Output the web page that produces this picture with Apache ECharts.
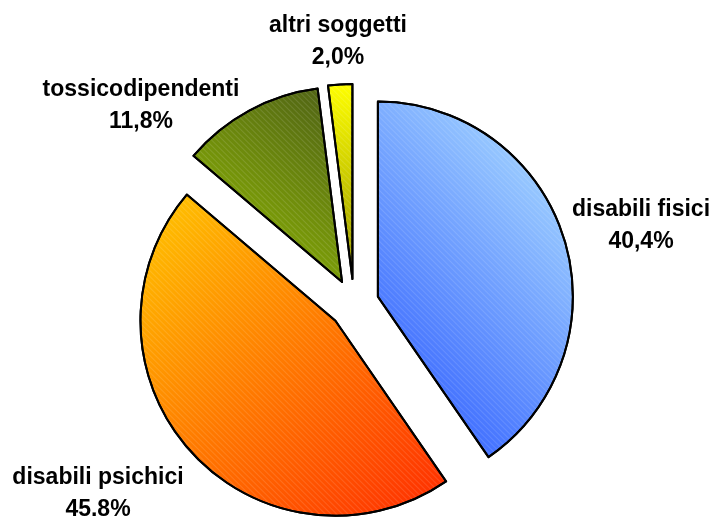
<!DOCTYPE html>
<html>
<head>
<meta charset="utf-8">
<script src="https://cdn.jsdelivr.net/npm/echarts@6/dist/echarts.min.js"></script>
<style>
  html, body { margin: 0; padding: 0; background: #fff; }
  #chart { width: 715px; height: 517px; }
</style>
</head>
<body>
<div id="chart"></div>
<script>
var categories = ['disabili fisici', 'disabili psichici', 'tossicodipendenti', 'altri soggetti'];
var values = [40.4, 45.8, 11.8, 2.0];
var percentLabels = ['40,4%', '45.8%', '11,8%', '2,0%'];

// where each label block sits (centre of the two lines)
var labelSpots = [[641, 226], [98, 494], [141, 106], [338, 42]];

function grad(x, y, x2, y2, c1, c2) {
	return new echarts.graphic.LinearGradient(x, y, x2, y2, [
		{offset: 0, color: c1},
		{offset: 1, color: c2}
	]);
}

// gradient fills, one per slice
var fills = [
	grad(0, 0.75, 1, 0.25, '#3a68ff', '#9fd0ff'),
	grad(0, 0, 1, 1, '#ffc800', '#ff2a00'),
	grad(1, 0, 0, 1, '#4c5e16', '#96c000'),
	grad(0, 0, 0, 1, '#ffff00', '#949400')
];

var myChart = echarts.init(document.getElementById('chart'));

var option = {
	animation: false,
	backgroundColor: '#ffffff',
	series: [{
		type: 'pie',
		center: [354, 304],
		radius: 195,
		startAngle: 90,
		clockwise: true,
		selectedMode: 'multiple',
		selectedOffset: 25,
		avoidLabelOverlap: false,
		minShowLabelAngle: 0,
		itemStyle: {
			borderColor: '#000',
			borderWidth: 2,
			// faint diagonal hatch like the original fill
			decal: {
				symbol: 'rect',
				symbolSize: 1,
				color: 'rgba(255,255,255,0.12)',
				dashArrayX: [1, 0],
				dashArrayY: [1, 3],
				rotation: Math.PI / 4
			}
		},
		emphasis: {scale: false},
		label: {
			show: true,
			position: 'outside',
			fontFamily: 'Liberation Sans, Arial, sans-serif',
			fontWeight: 'bold',
			fontSize: 23,
			lineHeight: 32,
			color: '#000',
			formatter: function (p) {
				return p.name + '\n' + percentLabels[p.dataIndex];
			}
		},
		labelLine: {show: false, length: 20, length2: 0},
		data: categories.map(function (name, i) {
			return {
				name: name,
				value: values[i],
				selected: true,
				itemStyle: {color: fills[i]}
			};
		})
	}]
};

myChart.setOption(option);

// put each label block where it belongs: centred lines, block centre on labelSpots
var data = myChart.getModel().getSeriesByIndex(0).getData();
data.each(function (idx) {
	var sector = data.getItemGraphicEl(idx);
	var label = sector && sector.getTextContent();
	if (!label) return;
	label.ignore = false;
	label.setStyle({align: 'center', verticalAlign: 'middle'});
	var rect = label.getBoundingRect().clone();
	rect.applyTransform(label.getComputedTransform());
	var s = labelSpots[idx];
	label.x += s[0] - (rect.x + rect.width / 2);
	label.y += s[1] - (rect.y + rect.height / 2);
	label.markRedraw();
});
</script>
</body>
</html>
